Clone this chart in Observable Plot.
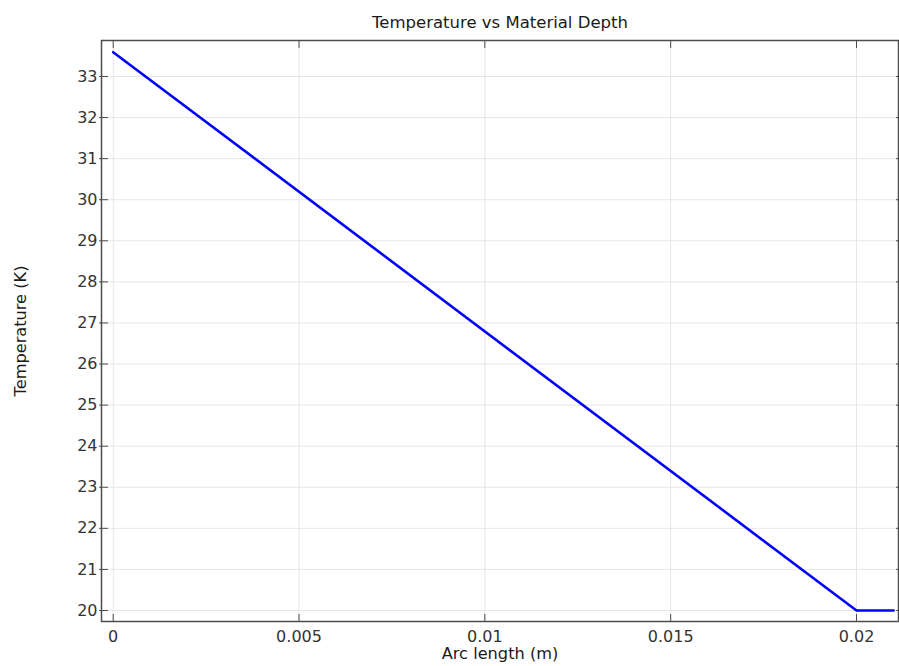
<!DOCTYPE html>
<html>
<head>
<meta charset="utf-8">
<script src="https://cdn.jsdelivr.net/npm/d3@7"></script>
<script src="https://cdn.jsdelivr.net/npm/@observablehq/plot@0.6"></script>
<style>
  html, body { margin: 0; padding: 0; background: #fff; }
  #chart svg { display: block; }
</style>
</head>
<body>
<div id="chart"></div>
<script>
const arcLength = [0, 0.02, 0.021];
const temperature = [33.59, 20, 20];
const xTicks = [0, 0.005, 0.01, 0.015, 0.02];
const xTickLabels = ["0", "0.005", "0.01", "0.015", "0.02"];
const yTicks = [20, 21, 22, 23, 24, 25, 26, 27, 28, 29, 30, 31, 32, 33];
const titleText = "Temperature vs Material Depth";
const xLabel = "Arc length (m)";
const yLabel = "Temperature (K)";

const data = arcLength.map((x, i) => ({x, y: temperature[i]}));
const font = "DejaVu Sans, sans-serif";
const frameColor = "#4d4d4d";
const gridColor = "#e6e6e6";
const tickLen = -7;

const plot = Plot.plot({
  width: 899,
  height: 666,
  marginLeft: 101,
  marginRight: 1,
  marginTop: 40,
  marginBottom: 45,
  style: {fontFamily: font, fontSize: "16px", color: "#333", background: "#fff"},
  x: {domain: [-0.000315, 0.02113]},
  y: {domain: [19.732, 33.876]},
  marks: [
    Plot.gridX(xTicks, {stroke: gridColor, strokeOpacity: 1, strokeWidth: 1}),
    Plot.gridY(yTicks, {stroke: gridColor, strokeOpacity: 1, strokeWidth: 1}),
    Plot.frame({stroke: frameColor, strokeWidth: 1.5}),
    // inward ticks
    Plot.axisX(xTicks, {anchor: "bottom", tickSize: tickLen, text: null, label: null, stroke: frameColor}),
    Plot.axisX(xTicks, {anchor: "top", tickSize: tickLen, text: null, label: null, stroke: frameColor}),
    Plot.axisY(yTicks, {anchor: "left", tickSize: tickLen, text: null, label: null, stroke: frameColor}),
    Plot.axisY(yTicks, {anchor: "left", tickSize: 2, text: null, label: null, stroke: frameColor}),
    Plot.axisY(yTicks, {anchor: "right", tickSize: -3, text: null, label: null, stroke: frameColor}),
    // tick labels
    Plot.axisX(xTicks, {anchor: "bottom", tickSize: 0, tickPadding: 9, tickFormat: (d, i) => xTickLabels[i], label: null, fill: "#333", fontSize: 16}),
    Plot.axisY(yTicks, {anchor: "left", tickSize: 0, tickPadding: 4, label: null, fill: "#333", fontSize: 16}),
    // line
    Plot.line(data, {x: "x", y: "y", stroke: "#0000ff", strokeWidth: 2.6}),
    // title and axis labels
    Plot.text([titleText], {frameAnchor: "top", dy: -24, fontSize: 16.5, fill: "#1a1a1a"}),
    Plot.text([xLabel], {frameAnchor: "bottom", dy: 37.5, fontSize: 16.2, fill: "#1a1a1a"}),
    Plot.text([yLabel], {frameAnchor: "left", textAnchor: "middle", dx: -81, rotate: -90, fontSize: 16.2, fill: "#1a1a1a"})
  ]
});
document.getElementById("chart").appendChild(plot);
</script>
</body>
</html>
